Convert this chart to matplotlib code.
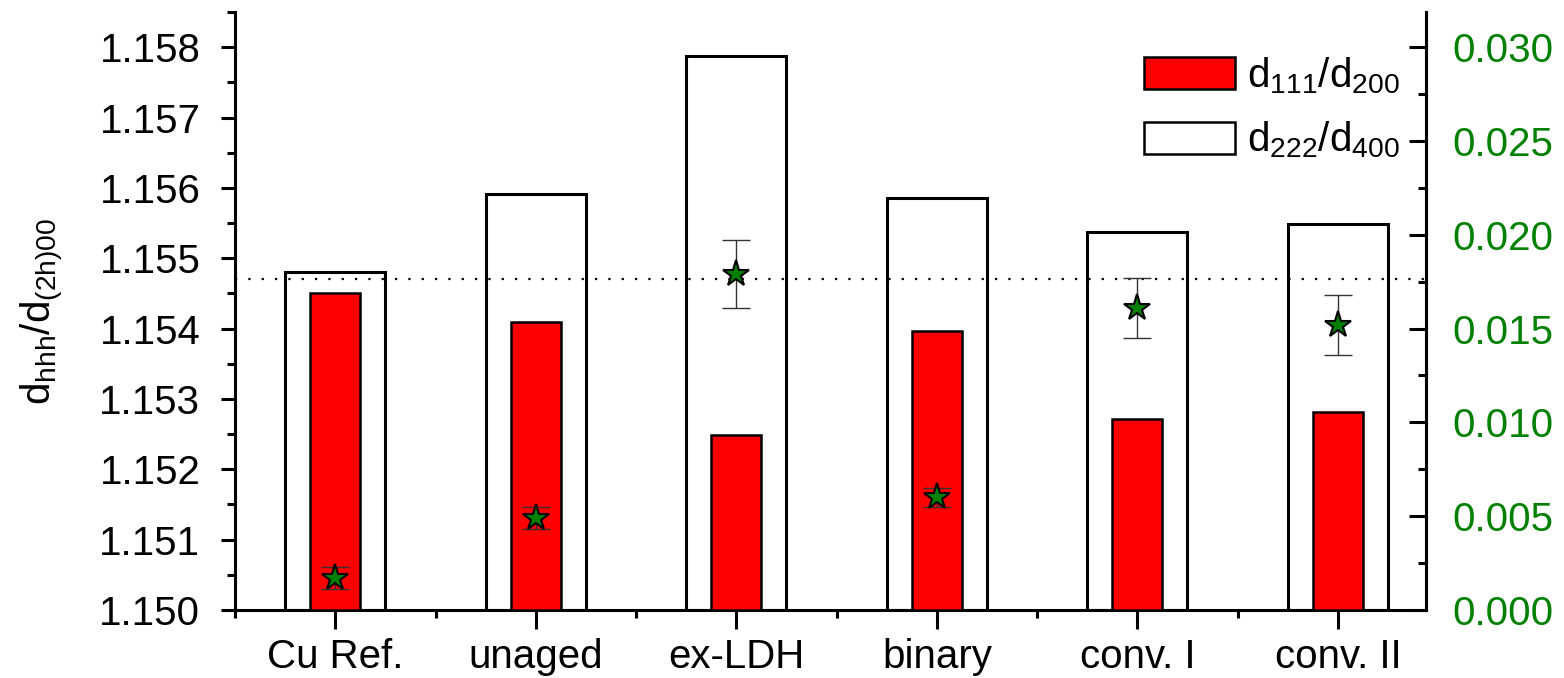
import numpy as np
import matplotlib
matplotlib.use("Agg")
import matplotlib.pyplot as plt
from matplotlib.ticker import MultipleLocator, FixedLocator, FormatStrFormatter
from matplotlib.patches import Patch

plt.rcParams['font.family'] = ['Liberation Sans', 'DejaVu Sans']
plt.rcParams['mathtext.fontset'] = 'custom'
plt.rcParams['mathtext.rm'] = 'Liberation Sans'
plt.rcParams['mathtext.it'] = 'Liberation Sans'

# Lattice spacing ratios and microstrain per sample
categories = ['Cu Ref.', 'unaged', 'ex-LDH', 'binary', 'conv. I', 'conv. II']
ratio_111_200 = [1.15450, 1.15409, 1.15249, 1.15396, 1.15272, 1.15282]
ratio_222_400 = [1.15481, 1.15591, 1.15788, 1.15586, 1.15537, 1.15548]
strain = [0.0017, 0.0049, 0.0179, 0.0060, 0.0161, 0.0152]
strain_err = [0.0006, 0.0006, 0.0018, 0.0005, 0.0016, 0.0016]
ideal_ratio = 2 / np.sqrt(3)

FS = 29
green = '#008000'

fig = plt.figure(figsize=(15.64, 6.78), dpi=100)
ax = fig.add_axes([0.1503, 0.1003, 0.9118 - 0.1503, 0.9823 - 0.1003])

x = np.arange(1, len(categories) + 1)
base = 1.150
ax.bar(x, np.array(ratio_222_400) - base, bottom=base, width=0.5,
       facecolor='white', edgecolor='black', linewidth=2.2, zorder=2)
ax.bar(x, np.array(ratio_111_200) - base, bottom=base, width=0.25,
       facecolor='#ff0000', edgecolor='black', linewidth=1.8, zorder=3)
ax.axhline(ideal_ratio, color='black', linestyle=(0, (1, 5)), linewidth=1.6, zorder=4)

ax.set_xlim(0.5, 6.44)
ax.set_ylim(1.150, 1.1585)
ax.yaxis.set_major_locator(MultipleLocator(0.001))
ax.yaxis.set_minor_locator(MultipleLocator(0.0005))
ax.yaxis.set_major_formatter(FormatStrFormatter('%.3f'))
ax.set_xticks(x)
ax.set_xticklabels(categories)
ax.xaxis.set_minor_locator(FixedLocator(np.arange(0.5, 7, 1.0)))

for s in ['left', 'bottom', 'right']:
    ax.spines[s].set_linewidth(2.2)
ax.spines['top'].set_visible(False)
ax.tick_params(axis='both', which='major', direction='out', length=10, width=2.2,
               labelsize=FS)
ax.tick_params(axis='both', which='minor', direction='out', length=6, width=2.2)
ax.tick_params(axis='y', which='major', pad=15)
ax.tick_params(axis='x', which='major', length=14, pad=6)

ax.set_ylabel(r'$\mathregular{d_{hhh}/d_{(2h)00}}$', fontsize=FS, labelpad=24)

ax2 = ax.twinx()
ax2.set_ylim(0, 0.031875)
ax2.yaxis.set_major_locator(MultipleLocator(0.005))
ax2.yaxis.set_minor_locator(MultipleLocator(0.0025))
ax2.yaxis.set_major_formatter(FormatStrFormatter('%.3f'))
ax2.spines['top'].set_visible(False)
ax2.spines['right'].set_linewidth(2.2)
ax2.tick_params(axis='y', which='major', direction='in', length=12, width=2.2,
                labelsize=FS, labelcolor=green, pad=19)
ax2.tick_params(axis='y', which='minor', direction='in', length=6, width=2.2)
ax2.errorbar(x, strain, yerr=strain_err, fmt='none', ecolor='#333333',
             elinewidth=1.0, capsize=10, capthick=1.0, zorder=5)
ax2.plot(x, strain, linestyle='none', marker='*', markersize=20,
         markerfacecolor=green, markeredgecolor='black', markeredgewidth=1.5, zorder=6)

handles = [Patch(facecolor='#ff0000', edgecolor='black', linewidth=1.8),
           Patch(facecolor='white', edgecolor='black', linewidth=1.8)]
labels = [r'$\mathregular{d_{111}/d_{200}}$', r'$\mathregular{d_{222}/d_{400}}$']
fig.legend(handles, labels, loc='upper left', bbox_to_anchor=(1144 / 1564, 1 - 55 / 678),
           frameon=False, fontsize=FS, handlelength=2.25, handleheight=0.85,
           handletextpad=0.3, labelspacing=0.6, borderpad=0, borderaxespad=0)

fig.savefig('out.png', dpi=100)
